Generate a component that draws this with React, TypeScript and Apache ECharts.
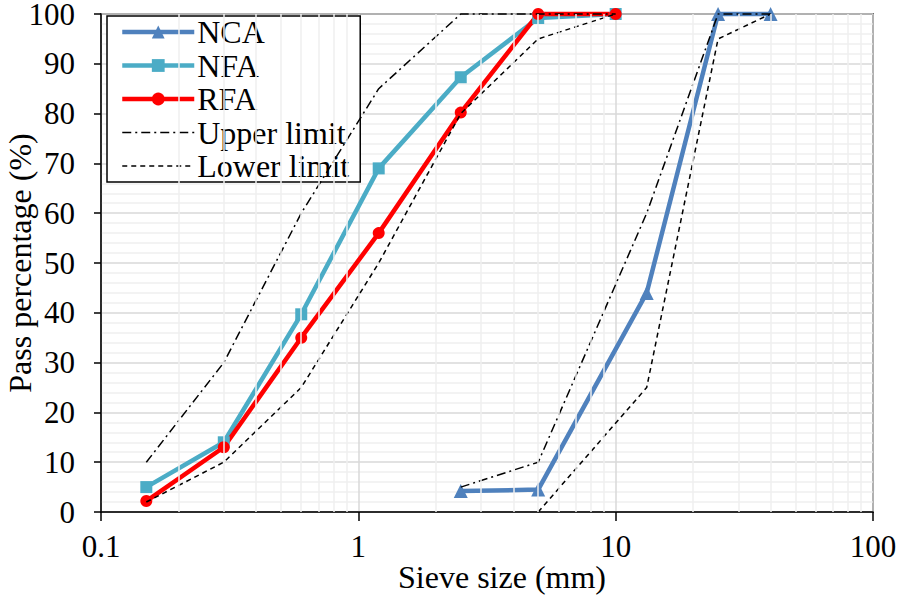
import React, { useEffect, useRef } from "react";
import * as echarts from "echarts";

const fineSizes = [0.15, 0.3, 0.6, 1.2, 2.5, 5, 10];
const coarseSizes = [2.5, 5, 13.2, 25, 40];
const ncaPass = [4.2, 4.5, 44, 100, 100];
const nfaPass = [5, 14, 39.7, 69, 87.3, 99.2, 100];
const rfaPass = [2.2, 13, 35, 56, 80.2, 100, 100];
const fineUpper = [10, 30, 60, 85, 100, 100, 100];
const fineLower = [2, 10, 25, 50, 80, 95, 100];
const coarseUpper = [5, 10, 60, 100, 100];
const coarseLower = [null, 0, 25, 95, 100];
const decades = [0.1, 1, 10];
const minorSteps = [2, 3, 4, 5, 6, 7, 8, 9];

const FONT = "Liberation Serif";

function pairs(xs: number[], ys: (number | null)[]) {
  const out: number[][] = [];
  xs.forEach((x, i) => {
    const y = ys[i];
    if (y !== null && y !== undefined) out.push([x, y]);
  });
  return out;
}

export default function App() {
  const ref = useRef<HTMLDivElement>(null);
  useEffect(() => {
    if (!ref.current) return;
    const chart = echarts.init(ref.current, null, { renderer: "svg" });
    const minorX: { xAxis: number }[] = [];
    decades.forEach((d) =>
      minorSteps.forEach((s) => minorX.push({ xAxis: +(d * s).toPrecision(6) }))
    );
    const upperStyle = { color: "#000", width: 1.5, type: [9, 4, 2, 4] as any };
    const lowerStyle = { color: "#000", width: 1.5, type: [5, 4] as any };
    chart.setOption({
      animation: false,
      backgroundColor: "#fff",
      textStyle: { fontFamily: FONT, color: "#000" },
      grid: {
        left: 101,
        right: 25,
        top: 14,
        bottom: 87,
        show: true,
        borderColor: "#000",
        borderWidth: 1.5,
        backgroundColor: "transparent",
        containLabel: false,
        outerBoundsMode: "none",
      },
      legend: {
        orient: "vertical",
        left: 107,
        top: 16,
        data: [
          { name: "NCA", lineStyle: { width: 4.5 } },
          { name: "NFA", lineStyle: { width: 4.5 } },
          { name: "RFA", lineStyle: { width: 4.5 } },
          { name: "Upper limit", itemStyle: { opacity: 0 }, lineStyle: { width: 1.5 } },
          { name: "Lower limit", itemStyle: { opacity: 0 }, lineStyle: { width: 1.5 } },
        ],
        itemWidth: 72,
        itemHeight: 16,
        itemGap: 1.5,
        padding: [0, 11, 0, 13],
        borderColor: "#000",
        borderWidth: 1.5,
        backgroundColor: "#fff",
        textStyle: {
          fontFamily: FONT,
          fontSize: 32,
          color: "#000",
          lineHeight: 30.5,
          padding: [0, 0, 0, -2],
        },
      },
      xAxis: {
        type: "log",
        logBase: 10,
        min: 0.1,
        max: 100,
        name: "Sieve size (mm)",
        nameLocation: "middle",
        nameGap: 49,
        nameMoveOverlap: false,
        nameTextStyle: {
          fontFamily: FONT,
          fontSize: 32,
          color: "#000",
          lineHeight: 32,
          padding: [0, 0, 0, 30],
        },
        axisLine: { show: true, lineStyle: { color: "#000", width: 1.5 } },
        axisTick: { show: true, length: 9, lineStyle: { color: "#000", width: 1.5 } },
        axisLabel: {
          fontFamily: FONT,
          fontSize: 31,
          color: "#000",
          margin: 22,
          lineHeight: 24,
          formatter: (v: number) => String(v),
        },
        splitLine: { show: true, lineStyle: { color: "#d9d9d9", width: 1.5 } },
      },
      yAxis: {
        type: "value",
        min: 0,
        max: 100,
        interval: 10,
        name: "Pass percentage (%)",
        nameLocation: "middle",
        nameGap: 66,
        nameMoveOverlap: false,
        nameTextStyle: { fontFamily: FONT, fontSize: 32, color: "#000", lineHeight: 30 },
        axisLine: { show: true, lineStyle: { color: "#000", width: 1.5 } },
        axisTick: { show: true, length: 7, lineStyle: { color: "#000", width: 1.5 } },
        axisLabel: { fontFamily: FONT, fontSize: 31, color: "#000", margin: 26, lineHeight: 22 },
        splitLine: { show: true, lineStyle: { color: "#d9d9d9", width: 1.5 } },
        minorTick: { show: false, splitNumber: 5 },
        minorSplitLine: { show: true, lineStyle: { color: "#efefef", width: 1.5 } },
      },
      series: [
        {
          name: "grid-minor",
          type: "line",
          data: [],
          z: 1,
          silent: true,
          markLine: {
            silent: true,
            symbol: ["none", "none"],
            label: { show: false },
            lineStyle: { color: "#efefef", width: 1.5, type: "solid" },
            emphasis: { disabled: true },
            animation: false,
            data: minorX,
          },
        },
        {
          name: "NCA",
          type: "line",
          z: 3,
          clip: false,
          data: pairs(coarseSizes, ncaPass),
          symbol: "triangle",
          symbolSize: 14,
          lineStyle: { color: "#4f81bd", width: 4.5 },
          itemStyle: { color: "#4f81bd" },
        },
        {
          name: "NFA",
          type: "line",
          z: 3,
          clip: false,
          data: pairs(fineSizes, nfaPass),
          symbol: "rect",
          symbolSize: 12,
          lineStyle: { color: "#4bacc6", width: 4.5 },
          itemStyle: { color: "#4bacc6" },
        },
        {
          name: "RFA",
          type: "line",
          z: 3,
          clip: false,
          data: pairs(fineSizes, rfaPass),
          symbol: "circle",
          symbolSize: 12,
          lineStyle: { color: "#ff0000", width: 4.5 },
          itemStyle: { color: "#ff0000" },
        },
        {
          name: "Upper limit",
          type: "line",
          z: 4,
          clip: false,
          data: pairs(fineSizes, fineUpper),
          symbol: "none",
          lineStyle: upperStyle,
          itemStyle: { color: "#000" },
        },
        {
          name: "Lower limit",
          type: "line",
          z: 4,
          clip: false,
          data: pairs(fineSizes, fineLower),
          symbol: "none",
          lineStyle: lowerStyle,
          itemStyle: { color: "#000" },
        },
        {
          name: "Upper limit",
          type: "line",
          z: 4,
          clip: false,
          data: pairs(coarseSizes, coarseUpper),
          symbol: "none",
          lineStyle: upperStyle,
          itemStyle: { color: "#000" },
        },
        {
          name: "Lower limit",
          type: "line",
          z: 4,
          clip: false,
          data: pairs(coarseSizes, coarseLower),
          symbol: "none",
          lineStyle: lowerStyle,
          itemStyle: { color: "#000" },
        },
      ],
    });
    return () => chart.dispose();
  }, []);
  return (
    <div
      ref={ref}
      style={{ position: "fixed", left: 0, top: 0, width: 898, height: 599, background: "#fff" }}
    />
  );
}
